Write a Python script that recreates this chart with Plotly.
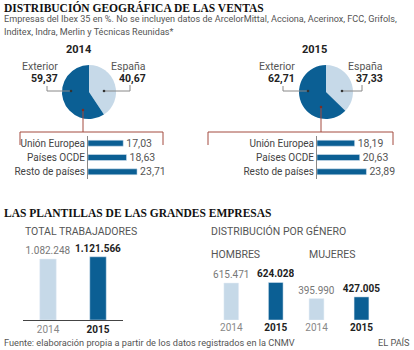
import plotly.graph_objects as go

W, H = 414, 350
DARK = "#0b5f94"
LIGHT = "#c6d9e8"
GRAY = "#555555"
RED = "#a34b3f"
SANS = "Roboto"
SERIF = "Liberation Serif"

# ---- data ----
pie_labels = ["España", "Exterior"]
pie_2014 = [40.67, 59.37]
pie_2015 = [37.33, 62.71]
regions = ["Unión Europea", "Países OCDE", "Resto de países"]
reg_2014 = [17.03, 18.63, 23.71]
reg_2015 = [18.19, 20.63, 23.89]
years = ["2014", "2015"]
total = [1082248, 1121566]
hombres = [615471, 624028]
mujeres = [395990, 427005]


def px(x):
    return x / W


def py(y):
    return 1 - y / H


def fmt_es(v, dec=2):
    s = f"{v:,.{dec}f}"
    return s.replace(",", "X").replace(".", ",").replace("X", ".")


fig = go.Figure()

# pies
for vals, dom in [(pie_2014, (62, 116)), (pie_2015, (299, 353))]:
    fig.add_trace(go.Pie(
        labels=pie_labels, values=vals, sort=False, direction="clockwise",
        rotation=0, textinfo="none", hoverinfo="label+value",
        marker=dict(colors=[LIGHT, DARK], line=dict(width=0)),
        domain=dict(x=[px(dom[0]), px(dom[1])], y=[py(119), py(65)]),
        showlegend=False))

# horizontal region bars
for i, (vals, x0) in enumerate([(reg_2014, 88), (reg_2015, 317)]):
    xa = "x" if i == 0 else "x2"
    ya = "y" if i == 0 else "y2"
    fig.add_trace(go.Bar(
        y=regions, x=vals, orientation="h", marker_color=DARK, width=0.42,
        text=[fmt_es(v) for v in vals], textposition="outside",
        constraintext="none",
        textfont=dict(family=SANS, size=10.5, color=GRAY), cliponaxis=False,
        xaxis=xa, yaxis=ya, showlegend=False))
    dom_x = [px(x0), px(x0 + 75)]
    fig.layout[("xaxis" if i == 0 else "xaxis2")] = dict(
        domain=dom_x, range=[0, 75 / 2.07], visible=False)
    fig.layout[("yaxis" if i == 0 else "yaxis2")] = dict(
        domain=[py(179), py(136)], anchor=xa, autorange="reversed",
        showline=True, linecolor="#888", linewidth=1, ticks="",
        tickfont=dict(family=SANS, size=10, color="#444"), showgrid=False)

# vertical bars
vb = [
    (total, (23, 123), 17742, "3", True),
    (hombres, (209, 298), 16634, "4", False),
    (mujeres, (294, 384), 18500, "5", False),
]
for vals, (x0, x1), per, n, baseline in vb:
    fig.add_trace(go.Bar(
        x=years, y=vals, marker_color=[LIGHT, DARK], width=0.33,
        texttemplate=[fmt_es(vals[0], 0), "<b>" + fmt_es(vals[1], 0) + "</b>"],
        textposition="outside", cliponaxis=False, constraintext="none",
        textfont=dict(family=SANS, size=10, color=["#777", "#222"]),
        xaxis="x" + n, yaxis="y" + n, showlegend=False))
    fig.layout["xaxis" + n] = dict(
        domain=[px(x0), px(x1)], anchor="y" + n, showline=baseline,
        linecolor="#444", linewidth=1, ticks="",
        tickmode="array", tickvals=years,
        ticktext=["<span style='color:#888'>" + years[0] + "</span>",
                  "<b>" + years[1] + "</b>"],
        tickfont=dict(family=SANS, size=10, color="#222"))
    fig.layout["yaxis" + n] = dict(
        domain=[py(320), py(240)], anchor="x" + n, range=[0, 80 * per],
        visible=False)

ann = []


def T(x, y, text, size=10, color=GRAY, family=SANS, xanchor="left", bold=False):
    if bold:
        text = "<b>" + text + "</b>"
    ann.append(dict(x=px(x), y=py(y), xref="paper", yref="paper", text=text,
                    showarrow=False, xanchor=xanchor, yanchor="middle",
                    font=dict(family=family, size=size, color=color)))


T(2, 7, "DISTRIBUCIÓN GEOGRÁFICA DE LAS VENTAS", 11.5, "#111", SERIF, bold=True)
T(2, 19, "Empresas del Ibex 35 en %. No se incluyen datos de ArcelorMittal, Acciona, Acerinox, FCC, Grifols,", 9.1, GRAY)
T(2, 32, "Inditex, Indra, Merlin y Técnicas Reunidas*", 9.1, GRAY)
T(79, 50, "2014", 11, "#222", xanchor="center", bold=True)
T(314, 50, "2015", 11, "#222", xanchor="center", bold=True)

for vals, ex_r, es_r in [(pie_2014, 60, 148), (pie_2015, 297, 385)]:
    T(ex_r, 66, pie_labels[1], 10.5, GRAY, xanchor="right")
    T(ex_r, 78, fmt_es(vals[1]), 10.5, "#222", xanchor="right", bold=True)
    T(es_r, 66, pie_labels[0], 10.5, GRAY, xanchor="right")
    T(es_r, 78, fmt_es(vals[0]), 10.5, "#222", xanchor="right", bold=True)

T(2, 213, "LAS PLANTILLAS DE LAS GRANDES EMPRESAS", 11.5, "#111", SERIF, bold=True)
T(23, 231, "TOTAL TRABAJADORES", 10.5, GRAY)
T(209, 231, "DISTRIBUCIÓN POR GÉNERO", 10.5, GRAY)
T(209, 254, "HOMBRES", 10.5, GRAY)
T(307, 254, "MUJERES", 10.5, GRAY)
T(2, 342, "Fuente: elaboración propia a partir de los datos registrados en la CNMV", 9.2, GRAY)
T(412, 342, "EL PAÍS", 9.2, GRAY, xanchor="right")

shapes = []


def L(x0, y0, x1, y1, color="#888", w=1):
    shapes.append(dict(type="line", xref="paper", yref="paper",
                       x0=px(x0), y0=py(y0), x1=px(x1), y1=py(y1),
                       line=dict(color=color, width=w)))


def D(x, y, color="#333", r=1.3):
    shapes.append(dict(type="circle", xref="paper", yref="paper",
                       x0=px(x - r), y0=py(y - r), x1=px(x + r), y1=py(y + r),
                       fillcolor=color, line=dict(width=0)))


# leader lines 2014
L(47, 86, 47, 91); L(47, 91, 71, 91); D(71, 91)
L(130, 85, 130, 91); L(104, 91, 130, 91); D(104, 91)
L(83, 110, 83, 132, RED); D(83, 110, "#7a2e25")
L(20, 132, 163, 132, RED); L(20, 132, 20, 145, RED); L(163, 132, 163, 145, RED)
# leader lines 2015
L(283, 86, 283, 91); L(283, 91, 308, 91); D(308, 91)
L(362, 85, 362, 91); L(342, 91, 362, 91); D(342, 91)
L(321, 107, 321, 132, RED); D(321, 107, "#7a2e25")
L(208, 132, 393, 132, RED); L(208, 132, 208, 145, RED); L(393, 132, 393, 145, RED)

fig.update_layout(
    width=W, height=H, margin=dict(l=0, r=0, t=0, b=0),
    paper_bgcolor="white", plot_bgcolor="white",
    annotations=ann, shapes=shapes, bargap=0.5,
    font=dict(family=SANS), separators=",.")

fig.write_html("out.html")
